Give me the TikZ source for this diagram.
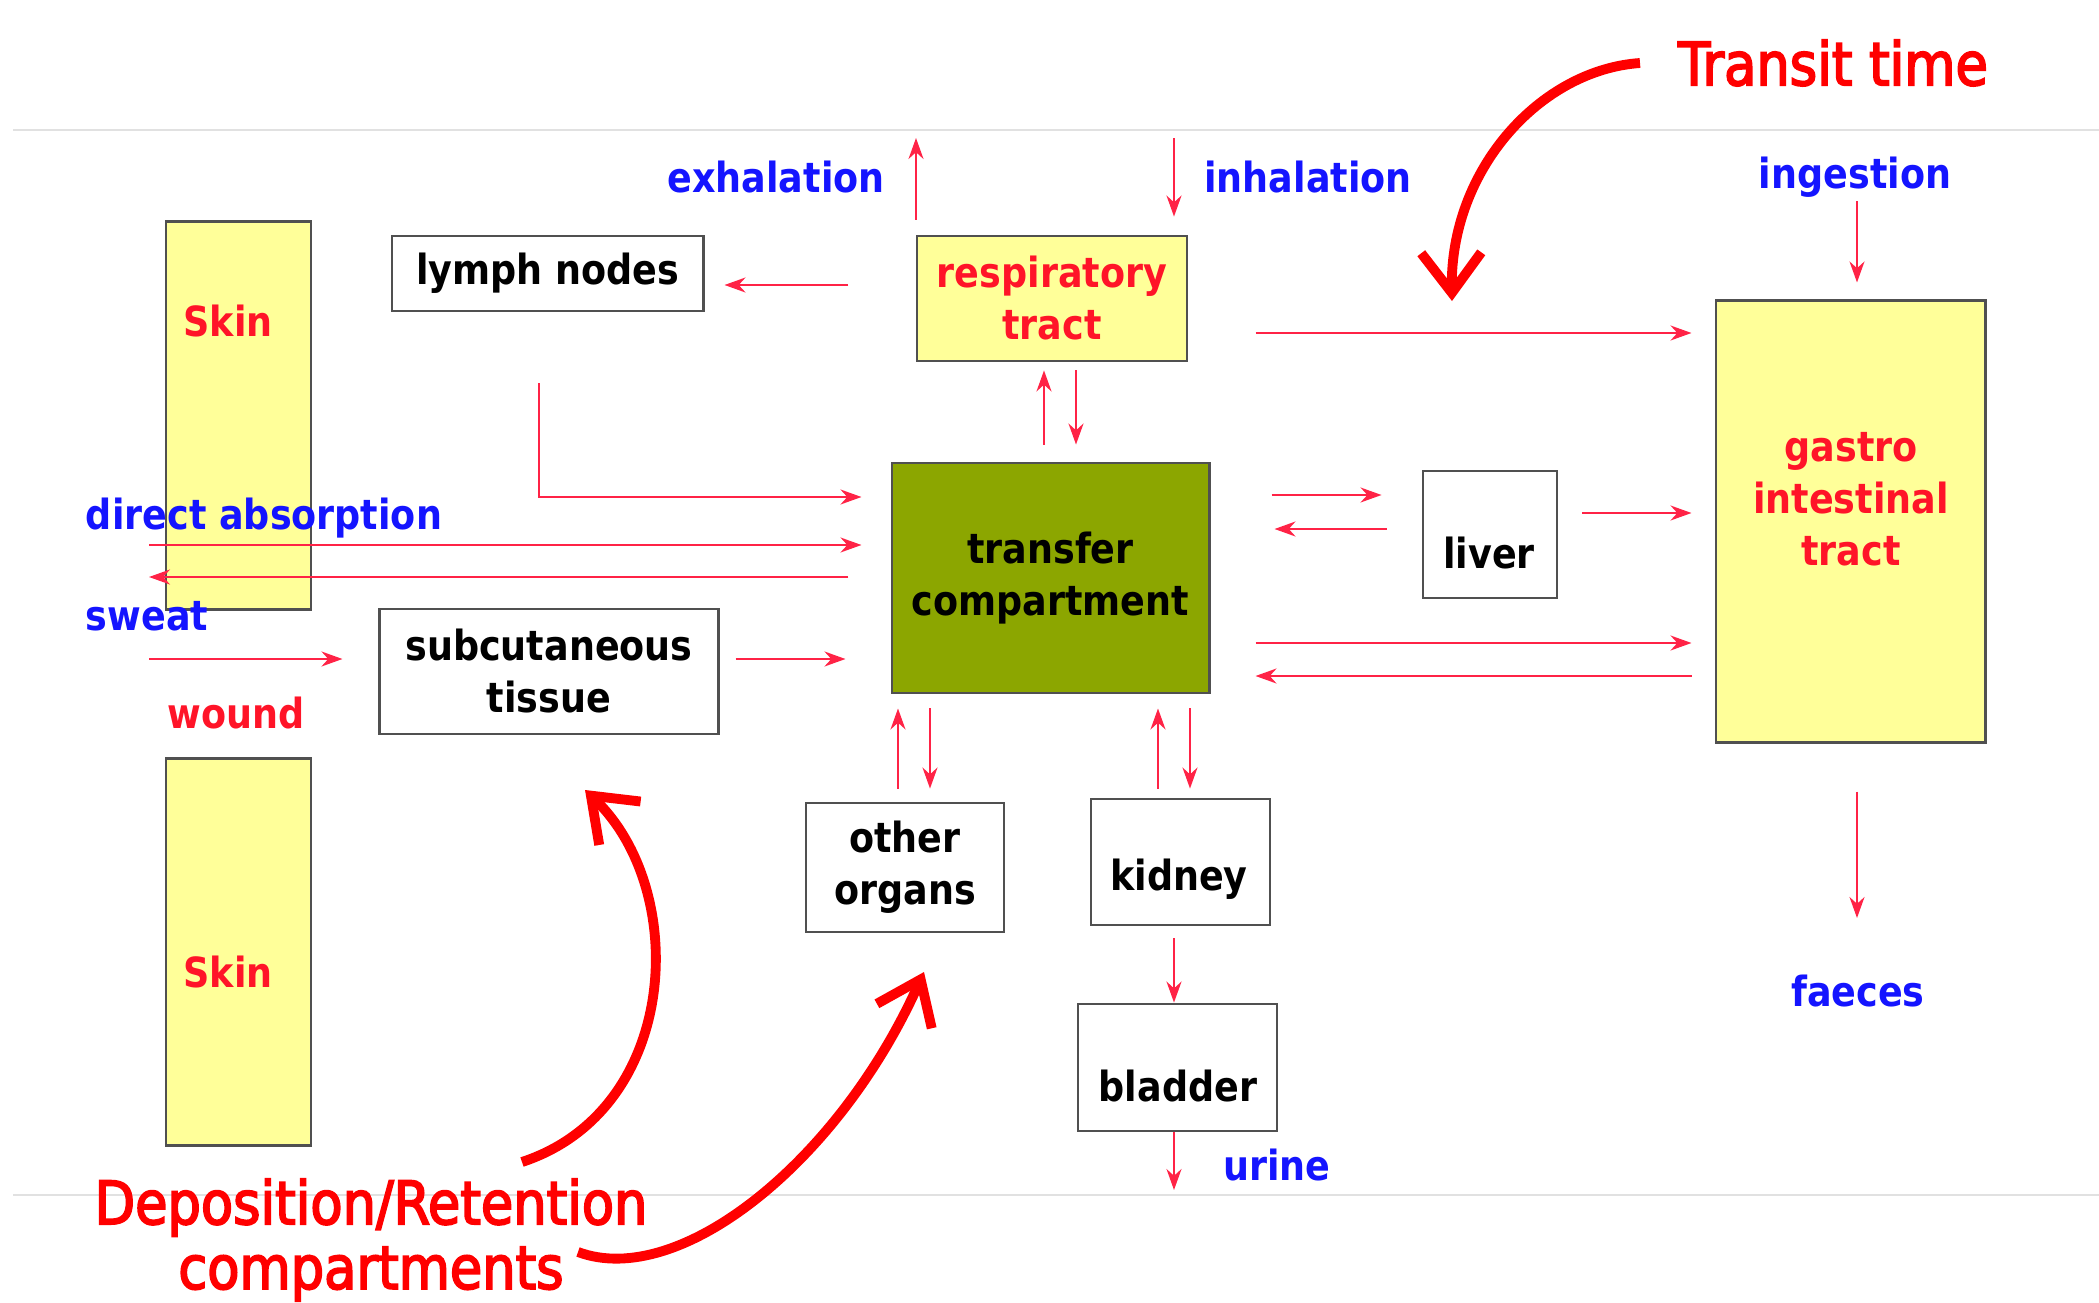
\documentclass[tikz,border=0pt]{standalone}
\usepackage{fontspec}
\setmainfont{DejaVu Sans}[FakeStretch=0.88]
\newfontfamily\notefamily{DejaVu Sans}[FakeStretch=0.88, FakeBold=3]
\usetikzlibrary{arrows.meta}

\definecolor{flowred}{RGB}{255,35,70}
\definecolor{textred}{RGB}{255,20,40}
\definecolor{bigred}{RGB}{255,0,0}
\definecolor{labelblue}{RGB}{20,20,255}
\definecolor{paleyellow}{RGB}{255,255,153}
\definecolor{olivebox}{RGB}{140,166,0}
\definecolor{boxgray}{RGB}{80,80,80}
\definecolor{rulegray}{RGB}{225,225,225}

\newcommand{\boxfont}{\fontsize{11.8pt}{14.8pt}\selectfont\bfseries}
\newcommand{\bigfont}{\notefamily\fontsize{17pt}{18.4pt}\selectfont}

\begin{document}
\begin{tikzpicture}[
  x=0.01cm, y=-0.01cm,
  box/.style={
    draw=boxgray,
    line width=0.8pt,
    fill=white,
    inner sep=0pt,
    align=center,
    font=\boxfont
  },
  ybox/.style={
    box,
    fill=paleyellow,
    text=textred
  },
  boxtext/.style={
    inner sep=0pt,
    align=center,
    font=\boxfont
  },
  flowlabel/.style={
    inner sep=0pt,
    text=labelblue,
    font=\boxfont
  },
  flow/.style={
    draw=flowred,
    line width=0.6pt,
    -{Stealth[length=2.1mm,width=1.5mm]}
  },
  bigarrow/.style={
    draw=bigred,
    line width=2.8pt,
    -{Straight Barb[length=4mm,width=6mm]}
  },
  note/.style={
    inner sep=0pt,
    align=center,
    text=bigred,
    font=\bigfont
  }
]

\path[use as bounding box] (0,0) rectangle (2099,1303);
\draw[rulegray, line width=0.4pt] (13,130) -- (2099,130);
\draw[rulegray, line width=0.4pt] (13,1195) -- (2099,1195);

% compartments
\node[ybox, minimum width=1.45cm, minimum height=3.87cm] (skintop) at (238.5,415.5) {};
\node[boxtext, text=textred] (skintoplab) at (228,321) {Skin};
\node[ybox, minimum width=1.45cm, minimum height=3.86cm] (skinbot) at (238.5,952) {};
\node[boxtext, text=textred] (skinbotlab) at (228,972) {Skin};

\node[box, minimum width=3.11cm, minimum height=0.75cm] (lymph) at (547.5,273.5) {lymph nodes};
\node[ybox, minimum width=2.70cm, minimum height=1.25cm] (resp) at (1052,298.5) {respiratory\\tract};
\node[box, fill=olivebox, minimum width=3.17cm, minimum height=2.30cm] (trans) at (1050.5,578) {transfer\\compartment};
\node[box, minimum width=3.38cm, minimum height=1.25cm] (subcut) at (549,671.5) {subcutaneous\\tissue};
\node[box, minimum width=1.34cm, minimum height=1.27cm] (liver) at (1490,534.5) {};
\node[boxtext] (liverlab) at (1489,553) {liver};
\node[ybox, minimum width=2.69cm, minimum height=4.41cm] (gi) at (1850.5,521.5) {};
\node[boxtext, text=textred] (gilab) at (1851,499) {gastro\\intestinal\\tract};
\node[box, minimum width=1.98cm, minimum height=1.29cm] (other) at (905,867.5) {other\\organs};
\node[box, minimum width=1.79cm, minimum height=1.26cm] (kidney) at (1180.5,862) {};
\node[boxtext] (kidneylab) at (1179,879) {kidney};
\node[box, minimum width=1.99cm, minimum height=1.27cm] (bladder) at (1177.5,1067.5) {};
\node[boxtext] (bladderlab) at (1178,1086) {bladder};

% routes in and out
\node[flowlabel] (exhlab) at (776,177) {exhalation};
\node[flowlabel] (inhlab) at (1308,177) {inhalation};
\node[flowlabel] (inglab) at (1855,177) {ingestion};
\node[flowlabel] (dabslab) at (264,518) {direct absorption};
\node[flowlabel] (sweatlab) at (147,616) {sweat};
\node[flowlabel, text=textred] (woundlab) at (236,713) {wound};
\node[flowlabel] (faeceslab) at (1858,991) {faeces};
\node[flowlabel] (urinelab) at (1277,1165) {urine};

\coordinate (exh) at (916,138);
\coordinate (inh) at (1174,138);
\coordinate (ing) at (1857,201);
\coordinate (dabs) at (149,545);
\coordinate (swt) at (149,577);
\coordinate (wnd) at (149,659);
\coordinate (fae) at (1857,918);
\coordinate (uri) at (1174,1190);

\draw[flow, shorten <=1.5mm] (resp.north -| exh) -- (exh);
\draw[flow, shorten >=1.8mm] (inh) -- (resp.north -| inh);
\draw[flow, shorten >=1.7mm] (ing) -- (gi.north -| ing);
\draw[flow, shorten <=6.7mm, shorten >=2mm] (resp.west |- 0,285) -- (lymph.east |- 0,285);
\draw[flow, shorten <=6.7mm, shorten >=2.3mm] (resp.east |- 0,333) -- (gi.west |- 0,333);
\draw[flow, shorten <=1.7mm, shorten >=0.8mm] (trans.north -| 1044,0) -- (resp.south -| 1044,0);
\draw[flow, shorten <=0.8mm, shorten >=1.7mm] (resp.south -| 1076,0) -- (trans.north -| 1076,0);
\draw[flow, shorten <=7.1mm, shorten >=2.9mm] (lymph.south -| 539,0) |- (trans.west |- 0,497);

\draw[flow, shorten >=2.9mm] (dabs) -- (trans.west |- dabs);
\draw[flow, shorten <=4.2mm] (trans.west |- swt) -- (swt);
\draw[flow, shorten >=3.6mm] (wnd) -- (subcut.west |- wnd);
\draw[flow, shorten <=1.6mm, shorten >=4.5mm] (subcut.east |- 0,659) -- (trans.west |- 0,659);

\draw[flow, shorten <=6.1mm, shorten >=4mm] (trans.east |- 0,495) -- (liver.west |- 0,495);
\draw[flow, shorten <=3.5mm, shorten >=6.4mm] (liver.west |- 0,529) -- (trans.east |- 0,529);
\draw[flow, shorten <=2.4mm, shorten >=2.3mm] (liver.east |- 0,513) -- (gi.west |- 0,513);
\draw[flow, shorten <=4.5mm, shorten >=2.3mm] (trans.east |- 0,643) -- (gi.west |- 0,643);
\draw[flow, shorten <=2.3mm, shorten >=4.5mm] (gi.west |- 0,676) -- (trans.east |- 0,676);
\draw[flow, shorten <=4.8mm] (gi.south -| fae) -- (fae);

\draw[flow, shorten <=1.3mm, shorten >=1.4mm] (other.north -| 898,0) -- (trans.south -| 898,0);
\draw[flow, shorten <=1.4mm, shorten >=1.3mm] (trans.south -| 930,0) -- (other.north -| 930,0);
\draw[flow, shorten <=0.9mm, shorten >=1.4mm] (kidney.north -| 1158,0) -- (trans.south -| 1158,0);
\draw[flow, shorten <=1.4mm, shorten >=0.9mm] (trans.south -| 1190,0) -- (kidney.north -| 1190,0);
\draw[flow, shorten <=1.2mm] (kidney.south -| 1174,0) -- (bladder.north -| 1174,0);
\draw[flow] (bladder.south -| uri) -- (uri);

% annotations
\node[note] (transit) at (1833,63) {Transit time};
\node[note] (deposit) at (371,1240) {Deposition/Retention\\compartments};

\coordinate (transitTail) at (1640,63);
\coordinate (transitTip) at (1452,301);
\coordinate (depTailA) at (522,1162);
\coordinate (depTipA) at (585,790);
\coordinate (depTailB) at (578,1252);
\coordinate (depTipB) at (924,972);

\draw[bigarrow] (transitTail) .. controls (1540,70) and (1450,170) .. (transitTip);
\draw[bigarrow] (depTailA) .. controls (680,1110) and (690,890) .. (depTipA);
\draw[bigarrow] (depTailB) .. controls (680,1290) and (840,1160) .. (depTipB);

\end{tikzpicture}
\end{document}
